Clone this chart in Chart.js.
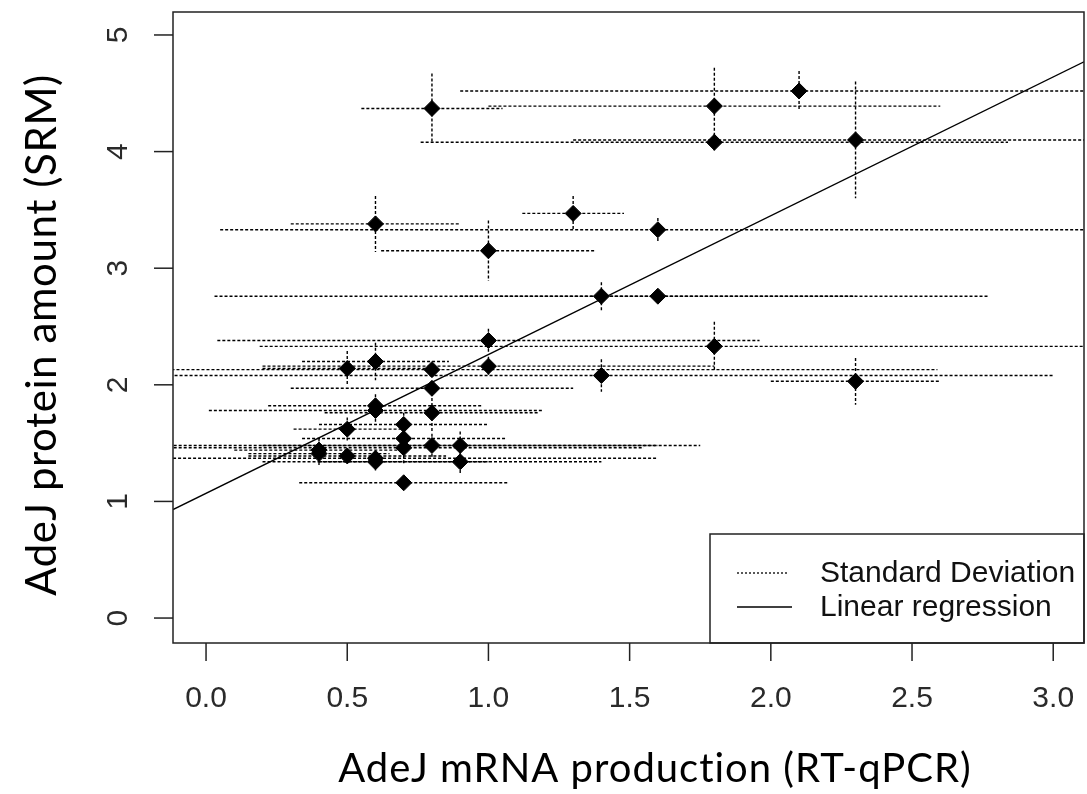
<!DOCTYPE html>
<html lang="en">
<head>
  <meta charset="UTF-8" />
  <title>AdeJ protein vs mRNA</title>
  <script src="https://cdn.jsdelivr.net/npm/chart.js"></script>
  <style>
    body { margin: 0; background: #fff; }
    #wrap { width: 1087px; height: 794px; }
  </style>
</head>
<body>
  <div id="wrap"><canvas id="chart" width="1087" height="794"></canvas></div>
  <script>
    // values
    const mrna    = [0.8, 1.8, 2.1, 1.8, 2.3, 0.6, 1.3, 1.6, 1.0, 1.4, 1.6, 1.0, 1.8, 0.6, 0.5, 1.0, 0.8, 1.4,
                     2.3, 0.8, 0.6, 0.6, 0.8, 0.7, 0.5, 0.7, 0.8, 0.9, 0.7, 0.4, 0.4, 0.5, 0.6, 0.6, 0.9, 0.7];
    const protein = [4.37, 4.39, 4.52, 4.08, 4.10, 3.38, 3.47, 3.33, 3.15, 2.76, 2.76, 2.38, 2.33, 2.20, 2.14, 2.16, 2.13, 2.08,
                     2.03, 1.97, 1.82, 1.78, 1.76, 1.66, 1.62, 1.54, 1.48, 1.48, 1.46, 1.44, 1.41, 1.39, 1.37, 1.34, 1.34, 1.16];
    const mrnaSd  = [0.25, 0.80, 1.20, 1.04, 1.00, 0.30, 0.18, 1.55, 0.38, 1.37, 0.70, 0.96, 1.61, 0.26, 0.30, 0.80, 1.79, 1.60,
                     0.30, 0.50, 0.38, 0.59, 0.38, 0.30, 0.19, 0.36, 0.95, 0.70, 0.85, 0.30, 0.25, 0.35, 1.00, 0.40, 0.50, 0.37];
    const proteinSd = [0.30, 0.33, 0.17, 0.07, 0.50, 0.24, 0.15, 0.10, 0.26, 0.12, 0.02, 0.10, 0.21, 0.16, 0.15, 0.08, 0.05, 0.14,
                     0.20, 0.05, 0.10, 0.10, 0.17, 0.10, 0.10, 0.10, 0.10, 0.12, 0.15, 0.10, 0.10, 0.05, 0.05, 0.08, 0.10, 0.02];

    // regression line end points as seen at the plot edges
    const regX = [-0.117, 3.109];
    const regY = [0.93, 4.77];

    const xTicks = [0.0, 0.5, 1.0, 1.5, 2.0, 2.5, 3.0];
    const yTicks = [0, 1, 2, 3, 4, 5];

    const xTitle = 'AdeJ mRNA production (RT-qPCR)';
    const yTitle = 'AdeJ protein amount (SRM)';
    const legendLabels = ['Standard Deviation', 'Linear regression'];

    const DOT = [3, 2];
    const labelFont = '30px "Liberation Sans", Arial, sans-serif';

    const errorBars = {
      id: 'errorBars',
      beforeDatasetsDraw(chart) {
        const { ctx, chartArea: a, scales: { x, y } } = chart;
        ctx.save();
        ctx.beginPath();
        ctx.rect(a.left, a.top, a.right - a.left, a.bottom - a.top);
        ctx.clip();
        ctx.strokeStyle = '#000';
        ctx.lineWidth = 1.4;
        ctx.setLineDash(DOT);
        mrna.forEach((m, i) => {
          const py = y.getPixelForValue(protein[i]);
          const px = x.getPixelForValue(m);
          ctx.beginPath();
          ctx.moveTo(x.getPixelForValue(m - mrnaSd[i]), py);
          ctx.lineTo(x.getPixelForValue(m + mrnaSd[i]), py);
          ctx.stroke();
          ctx.beginPath();
          ctx.moveTo(px, y.getPixelForValue(protein[i] + proteinSd[i]));
          ctx.lineTo(px, y.getPixelForValue(protein[i] - proteinSd[i]));
          ctx.stroke();
        });
        ctx.restore();
      }
    };

    const frame = {
      id: 'frame',
      afterDraw(chart) {
        const { ctx, chartArea: a, scales: { x, y } } = chart;
        ctx.save();
        ctx.strokeStyle = '#222';
        ctx.lineWidth = 1.5;
        ctx.setLineDash([]);

        // legend box
        ctx.fillStyle = '#fff';
        ctx.fillRect(710, 534, a.right - 710, a.bottom - 534);
        ctx.strokeRect(710, 534, a.right - 710, a.bottom - 534);

        ctx.strokeRect(a.left, a.top, a.right - a.left, a.bottom - a.top);

        // x ticks
        ctx.fillStyle = '#2a2a2a';
        ctx.font = labelFont;
        ctx.textAlign = 'center';
        ctx.textBaseline = 'middle';
        xTicks.forEach(v => {
          const px = x.getPixelForValue(v);
          ctx.beginPath();
          ctx.moveTo(px, a.bottom);
          ctx.lineTo(px, a.bottom + 18);
          ctx.stroke();
          ctx.fillText(v.toFixed(1), px, 699);
        });

        // y ticks, labels turned like R's las = 0
        yTicks.forEach(v => {
          const py = y.getPixelForValue(v);
          ctx.beginPath();
          ctx.moveTo(a.left, py);
          ctx.lineTo(a.left - 19, py);
          ctx.stroke();
          ctx.save();
          ctx.translate(119, py);
          ctx.rotate(-Math.PI / 2);
          ctx.fillText(String(v), 0, 0);
          ctx.restore();
        });

        // legend entries
        ctx.strokeStyle = '#000';
        ctx.lineWidth = 1.3;
        ctx.setLineDash([2, 2]);
        ctx.beginPath();
        ctx.moveTo(737, 573);
        ctx.lineTo(789, 573);
        ctx.stroke();
        ctx.setLineDash([]);
        ctx.beginPath();
        ctx.moveTo(737, 607);
        ctx.lineTo(792, 607);
        ctx.stroke();
        ctx.fillStyle = '#111';
        ctx.textAlign = 'left';
        ctx.fillText(legendLabels[0], 820, 574);
        ctx.fillText(legendLabels[1], 820, 608);

        // axis titles
        ctx.fillStyle = '#000';
        ctx.textAlign = 'center';
        ctx.textBaseline = 'alphabetic';
        ctx.font = '40px Lato, "Open Sans", sans-serif';
        ctx.letterSpacing = '1px';
        ctx.fillText(xTitle, 655, 782);
        ctx.font = '42px Lato, "Open Sans", sans-serif';
        ctx.letterSpacing = '0.6px';
        ctx.save();
        ctx.translate(56, 335);
        ctx.rotate(-Math.PI / 2);
        ctx.fillText(yTitle, 0, 0);
        ctx.restore();
        ctx.restore();
      }
    };

    new Chart(document.getElementById('chart'), {
      type: 'scatter',
      data: {
        datasets: [
          {
            label: 'Linear regression',
            type: 'line',
            data: regX.map((v, i) => ({ x: v, y: regY[i] })),
            borderColor: '#000',
            borderWidth: 1.3,
            pointRadius: 0,
            fill: false,
            order: 2
          },
          {
            label: 'Samples',
            data: mrna.map((v, i) => ({ x: v, y: protein[i] })),
            pointStyle: 'rectRot',
            pointRadius: 8,
            backgroundColor: '#000',
            borderColor: '#000',
            borderWidth: 1,
            order: 1
          }
        ]
      },
      options: {
        responsive: false,
        animation: false,
        events: [],
        layout: { autoPadding: false, padding: { top: 12, right: 3, left: 0, bottom: 0 } },
        plugins: { legend: { display: false }, tooltip: { enabled: false } },
        scales: {
          x: {
            type: 'linear', min: -0.117, max: 3.109,
            grid: { display: false }, border: { display: false },
            ticks: { display: false },
            afterFit(s) { s.height = 151; }
          },
          y: {
            type: 'linear', min: -0.214, max: 5.197,
            grid: { display: false }, border: { display: false },
            ticks: { display: false },
            afterFit(s) { s.width = 173; }
          }
        }
      },
      plugins: [errorBars, frame]
    });
  </script>
</body>
</html>
